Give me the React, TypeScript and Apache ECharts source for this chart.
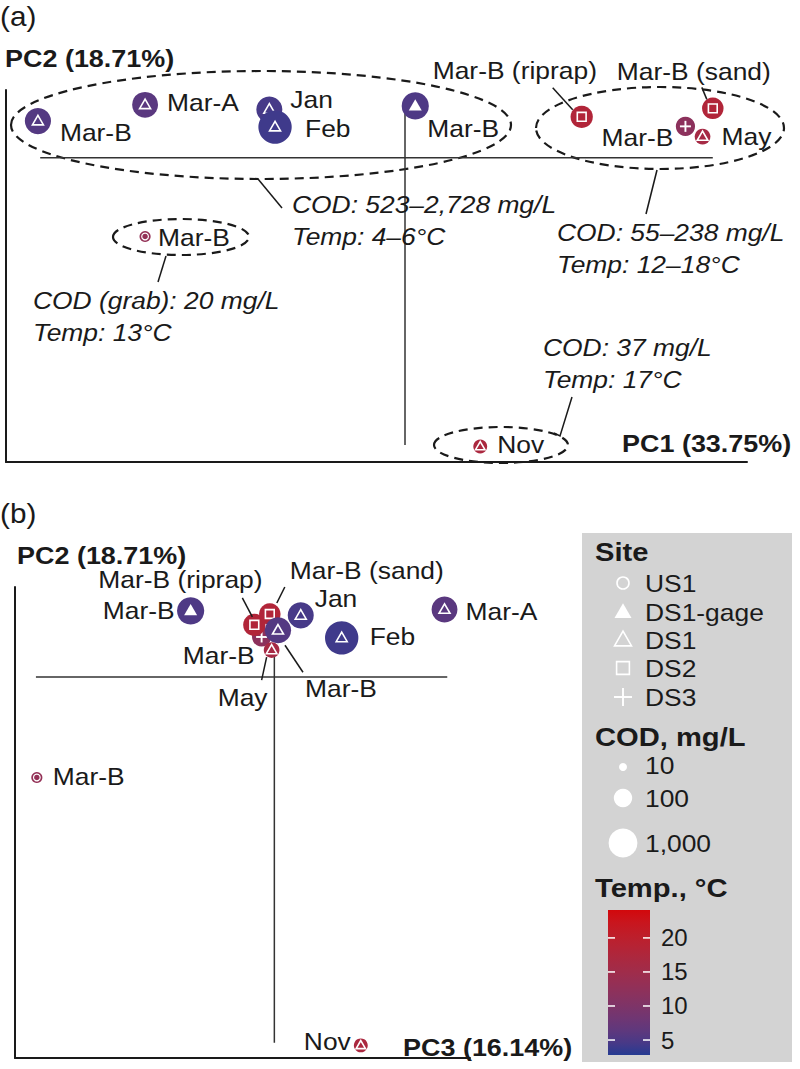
import React, { useEffect, useRef } from "react";
import * as echarts from "echarts";

const FONT = "'Liberation Sans', Arial, Helvetica, sans-serif";
const INK = "#1a1a1a";

// ---------------- data ----------------
// draw order matters (later points overlap earlier ones)
const names = ["Mar-B", "Mar-B (riprap)", "Mar-B (sand)", "Mar-B", "May", "Mar-A", "Jan", "Feb", "Mar-B", "Mar-B", "Nov"];
const sites = ["DS3", "DS2", "DS2", "DS1", "DS1", "DS1", "DS1", "DS1", "DS1-gage", "US1", "DS1"];
const pc1 = [2.46, 1.55, 2.7, -3.22, 2.61, -2.28, -1.19, -1.14, 0.09, -2.28, 0.66];
const pc2 = [0.445, 0.58, 0.7, 0.52, 0.3, 0.75, 0.685, 0.435, 0.735, -1.115, -4.09];
const pc3 = [-0.14, -0.22, -0.05, 0.04, -0.03, 1.87, 0.29, 0.74, -0.92, -2.61, 0.95];
const cod = [120, 238, 200, 560, 55, 523, 540, 2728, 700, 20, 37];
const temp = [12, 18, 18, 5.5, 16, 6, 4.5, 4, 5, 13, 17];

const siteLegend = ["US1", "DS1-gage", "DS1", "DS2", "DS3"];
const codLegend = [10, 100, 1000];
const codLegendText = ["10", "100", "1,000"];
const tempTicks = [5, 10, 15, 20];
const tempRange = [2.8, 24.1];

const titlesA = ["PC1 (33.75%)", "PC2 (18.71%)"];
const titlesB = ["PC3 (16.14%)", "PC2 (18.71%)"];

const crossAx = [-3.2, 2.7];
const crossAy = [0.82, -4.07];
const crossBx = [-2.62, 1.9];
const crossBy = [0.245, -4.06];

const notes = [
  ["COD: 523–2,728 mg/L", "Temp: 4–6°C"],
  ["COD: 55–238 mg/L", "Temp: 12–18°C"],
  ["COD (grab): 20 mg/L", "Temp: 13°C"],
  ["COD: 37 mg/L", "Temp: 17°C"],
];

// ---------------- layout (label offsets relative to each point) ----------------
type Lab = { dx: number; dy: number; align?: string; lead?: number[] };
const labelsA: Lab[] = [
  { dx: -12, dy: 11, align: "right" },
  { dx: -149, dy: -46, lead: [-29, -29, -9, -7] },
  { dx: -96, dy: -37, lead: [-11, -21, -6, -9] },
  { dx: 22, dy: 11 },
  { dx: 19, dy: 0 },
  { dx: 22, dy: -2 },
  { dx: 21, dy: -10 },
  { dx: 30, dy: 1 },
  { dx: 12, dy: 23 },
  { dx: 13, dy: 1 },
  { dx: 17, dy: -2 },
];
const labelsB: Lab[] = [
  { dx: -7, dy: 18, align: "right" },
  { dx: -156, dy: -45, lead: [-12, -27, -2, -8] },
  { dx: 20, dy: -44, lead: [15, -27, 7, -11] },
  { dx: 27, dy: 58, lead: [7, 15, 25, 42] },
  { dx: -29, dy: 47, align: "center", lead: [-5, 7, -10, 30] },
  { dx: 21, dy: 2 },
  { dx: 14, dy: -17 },
  { dx: 28, dy: -1 },
  { dx: -16, dy: 0, align: "right" },
  { dx: 16, dy: -1 },
  { dx: -10, dy: -4, align: "right" },
];

// ---------------- colour scale (Lab interpolation) ----------------
function hex2rgb(h: string) {
  const n = parseInt(h.slice(1), 16);
  return [(n >> 16) & 255, (n >> 8) & 255, n & 255];
}
const toLin = (c: number) => {
  c /= 255;
  return c <= 0.04045 ? c / 12.92 : Math.pow((c + 0.055) / 1.055, 2.4);
};
const fromLin = (c: number) => {
  const v = c <= 0.0031308 ? 12.92 * c : 1.055 * Math.pow(Math.max(c, 0), 1 / 2.4) - 0.055;
  return Math.round(Math.min(1, Math.max(0, v)) * 255);
};
const Xn = 0.95047, Zn = 1.08883;
const ff = (t: number) => (t > 0.008856 ? Math.cbrt(t) : 7.787 * t + 16 / 116);
const fi = (t: number) => (t > 0.206893 ? t * t * t : (t - 16 / 116) / 7.787);
function rgb2lab(rgb: number[]) {
  const [r, g, b] = rgb.map(toLin);
  const X = 0.4124 * r + 0.3576 * g + 0.1805 * b;
  const Y = 0.2126 * r + 0.7152 * g + 0.0722 * b;
  const Z = 0.0193 * r + 0.1192 * g + 0.9505 * b;
  const fx = ff(X / Xn), fy = ff(Y), fz = ff(Z / Zn);
  return [116 * fy - 16, 500 * (fx - fy), 200 * (fy - fz)];
}
function lab2hex(lab: number[]) {
  const [L, a, b] = lab;
  const fy = (L + 16) / 116, fx = fy + a / 500, fz = fy - b / 200;
  const X = Xn * fi(fx), Y = fi(fy), Z = Zn * fi(fz);
  const r = 3.2406 * X - 1.5372 * Y - 0.4986 * Z;
  const g = -0.9689 * X + 1.8758 * Y + 0.0415 * Z;
  const bb = 0.0557 * X - 0.204 * Y + 1.057 * Z;
  return "#" + [r, g, bb].map((v) => fromLin(v).toString(16).padStart(2, "0")).join("");
}
const LOW = rgb2lab(hex2rgb("#263b92"));
const HIGH = rgb2lab(hex2rgb("#d2080c"));
function tempColor(t: number) {
  const u = Math.min(1, Math.max(0, (t - tempRange[0]) / (tempRange[1] - tempRange[0])));
  return lab2hex(LOW.map((v, k) => v + (HIGH[k] - v) * u));
}
const codRadius = (c: number) => 4 + 5.2 * (Math.log10(c) - 1);

// ---------------- drawing helpers ----------------
function T(x: number, y: number, text: string, o: any = {}) {
  const align = o.align || "left";
  return {
    type: "text",
    x,
    y,
    scaleX: o.sx ?? 1.1,
    z: o.z ?? 6,
    silent: true,
    style: {
      text,
      fontSize: o.size ?? 24,
      fontWeight: o.bold ? "bold" : "normal",
      fontStyle: o.italic ? "italic" : "normal",
      fontFamily: FONT,
      fill: o.color || INK,
      align,
      verticalAlign: "middle",
      textAlign: align,
      textVerticalAlign: "middle",
    },
  };
}
function L(x1: number, y1: number, x2: number, y2: number, stroke = INK, lw = 1.5, z = 5) {
  return { type: "line", z, silent: true, shape: { x1, y1, x2, y2 }, style: { stroke, lineWidth: lw } };
}
function symbolEls(site: string, cx: number, cy: number, w: number, lw: number, r: number) {
  const W = "#ffffff";
  if (site === "DS1" || site === "DS1-gage") {
    const h = w * 0.866;
    const pts = [
      [cx, cy - h * 0.6],
      [cx - w / 2, cy + h * 0.4],
      [cx + w / 2, cy + h * 0.4],
    ];
    return [
      {
        type: "polygon",
        shape: { points: pts },
        style: site === "DS1" ? { fill: "none", stroke: W, lineWidth: lw, lineJoin: "miter" } : { fill: W },
      },
    ];
  }
  if (site === "DS2") {
    const s = w * 0.8;
    return [{ type: "rect", shape: { x: cx - s / 2, y: cy - s / 2, width: s, height: s }, style: { fill: "none", stroke: W, lineWidth: lw } }];
  }
  if (site === "DS3") {
    const s = w / 2;
    return [
      { type: "line", shape: { x1: cx - s, y1: cy, x2: cx + s, y2: cy }, style: { stroke: W, lineWidth: lw + 0.3 } },
      { type: "line", shape: { x1: cx, y1: cy - s, x2: cx, y2: cy + s }, style: { stroke: W, lineWidth: lw + 0.3 } },
    ];
  }
  return [{ type: "circle", shape: { cx, cy, r: r * 0.6 }, style: { fill: "none", stroke: W, lineWidth: 1.2 } }];
}

const markerRender = (params: any, api: any) => {
  const i = params.dataIndex;
  const [cx, cy] = api.coord([api.value(0), api.value(1)]);
  const r = codRadius(cod[i]);
  const w = sites[i] === "DS1-gage" ? Math.min(13, r * 1.35) : Math.min(11, r * 1.35);
  return {
    type: "group",
    children: [
      { type: "circle", shape: { cx, cy, r }, style: { fill: tempColor(temp[i]) } },
      ...symbolEls(sites[i], cx, cy, w, 1.6, r),
    ],
  };
};
const labelRender = (cfg: Lab[]) => (params: any, api: any) => {
  const i = params.dataIndex;
  const [cx, cy] = api.coord([api.value(0), api.value(1)]);
  const c = cfg[i];
  const children: any[] = [T(cx + c.dx, cy + c.dy, names[i], { align: c.align || "left" })];
  if (c.lead) {
    children.push({
      type: "line",
      shape: { x1: cx + c.lead[0], y1: cy + c.lead[1], x2: cx + c.lead[2], y2: cy + c.lead[3] },
      style: { stroke: INK, lineWidth: 1.5 },
    });
  }
  return { type: "group", children };
};

function plainAxis(gridIndex: number, min: number, max: number) {
  return {
    gridIndex,
    type: "value",
    min,
    max,
    axisLine: { show: true, onZero: false, lineStyle: { color: INK, width: 2 } },
    axisTick: { show: false },
    axisLabel: { show: false },
    splitLine: { show: false },
  };
}
function cross(xi: number, data: number[][]) {
  return {
    type: "line",
    xAxisIndex: xi,
    yAxisIndex: xi,
    data,
    symbol: "none",
    silent: true,
    z: 1,
    lineStyle: { color: "#333", width: 1.5 },
  };
}

function buildOption() {
  const G: any[] = [];
  // panel letters & axis titles
  G.push(T(0, 16, "(a)", { size: 27 }));
  G.push(T(5, 58, titlesA[1], { bold: true, size: 24.5 }));
  G.push(T(622, 443, titlesA[0], { bold: true, size: 24.5 }));
  G.push(T(0, 513, "(b)", { size: 27 }));
  G.push(T(17, 555, titlesB[1], { bold: true, size: 24.5 }));
  G.push(T(403, 1047, titlesB[0], { bold: true, size: 24.5 }));

  // dashed group ellipses (panel a)
  const ell = [
    [261, 125, 250, 54],
    [660, 128, 124, 41],
    [181, 237, 68, 18],
    [501, 445, 67, 18],
  ];
  ell.forEach(([cx, cy, rx, ry]) =>
    G.push({
      type: "ellipse",
      z: 1,
      silent: true,
      shape: { cx, cy, rx, ry },
      style: { fill: "none", stroke: INK, lineWidth: 2.2, lineDash: [9, 6] },
    })
  );
  // leaders
  G.push(L(258, 179, 282, 208));
  G.push(L(657, 170, 646, 214));
  G.push(L(166, 256, 158, 282));
  G.push({
    type: "polyline",
    z: 5,
    silent: true,
    shape: { points: [[554, 433], [560, 436], [572, 397]] },
    style: { stroke: INK, lineWidth: 1.5, fill: "none" },
  });
  // annotation texts
  const notePos = [
    [292, 204],
    [557, 232],
    [33, 300],
    [543, 347],
  ];
  notes.forEach((lines, k) => {
    lines.forEach((s, j) => G.push(T(notePos[k][0], notePos[k][1] + j * 32, s, { italic: true, size: 24 })));
  });

  // legend box
  G.push({ type: "rect", z: 0, silent: true, shape: { x: 582, y: 533, width: 210, height: 529 }, style: { fill: "#d3d3d3" } });
  G.push(T(595, 552, "Site", { bold: true, size: 26.5 }));
  const siteY = [583, 612, 640, 668, 697];
  siteLegend.forEach((s, k) => {
    const y = siteY[k];
    const w = s === "DS2" ? 16 : s === "DS3" ? 18 : 17;
    const els = s === "US1"
      ? [{ type: "circle", shape: { cx: 623, cy: y, r: 6 }, style: { fill: "none", stroke: "#fff", lineWidth: 1.6 } }]
      : symbolEls(s, 623, y, w, 1.6, 6);
    els.forEach((e: any) => G.push({ ...e, z: 2, silent: true }));
    G.push(T(645, y, s, { size: 24 }));
  });
  G.push(T(595, 737, "COD, mg/L", { bold: true, size: 26.5 }));
  const codY = [767, 798, 843];
  codLegend.forEach((c, k) => {
    G.push({ type: "circle", z: 2, silent: true, shape: { cx: 623, cy: codY[k], r: codRadius(c) }, style: { fill: "#fff" } });
    G.push(T(645, codY[k] - (k === 0 ? 2 : 0), codLegendText[k], { size: 24 }));
  });
  G.push(T(595, 888, "Temp., °C", { bold: true, size: 26.5 }));

  const stops: any[] = [];
  for (let k = 0; k <= 12; k++) {
    const u = k / 12;
    stops.push({ offset: u, color: tempColor(tempRange[0] + u * (tempRange[1] - tempRange[0])) });
  }
  const barFill = new echarts.graphic.LinearGradient(0, 1, 0, 0, stops);

  return {
    animation: false,
    grid: [
      { left: 6, top: 90, width: 741, height: 372 },
      { left: 15, top: 587, width: 455, height: 471 },
      { left: 608, top: 910, width: 42, height: 145 },
    ],
    xAxis: [
      plainAxis(0, -3.5, 3.0),
      plainAxis(1, -2.85, 2.15),
      { gridIndex: 2, type: "value", min: 0, max: 1, show: false },
    ],
    yAxis: [
      plainAxis(0, -4.31, 0.96),
      plainAxis(1, -4.23, 1.0),
      {
        gridIndex: 2,
        type: "value",
        position: "right",
        min: tempRange[0],
        max: tempRange[1],
        axisLine: { show: false },
        axisTick: { show: false },
        axisLabel: { show: true, customValues: tempTicks, margin: 11, fontSize: 24, fontFamily: FONT, color: INK },
        splitLine: { show: false },
      },
    ],
    series: [
      cross(0, [[crossAx[0], 0], [crossAx[1], 0]]),
      cross(0, [[0, crossAy[0]], [0, crossAy[1]]]),
      cross(1, [[crossBx[0], 0], [crossBx[1], 0]]),
      cross(1, [[0, crossBy[0]], [0, crossBy[1]]]),
      {
        type: "custom",
        xAxisIndex: 0,
        yAxisIndex: 0,
        z: 3,
        data: pc1.map((x, i) => [x, pc2[i]]),
        renderItem: markerRender,
      },
      {
        type: "custom",
        xAxisIndex: 0,
        yAxisIndex: 0,
        z: 4,
        data: pc1.map((x, i) => [x, pc2[i]]),
        renderItem: labelRender(labelsA),
      },
      {
        type: "custom",
        xAxisIndex: 1,
        yAxisIndex: 1,
        z: 3,
        data: pc3.map((x, i) => [x, pc2[i]]),
        renderItem: markerRender,
      },
      {
        type: "custom",
        xAxisIndex: 1,
        yAxisIndex: 1,
        z: 4,
        data: pc3.map((x, i) => [x, pc2[i]]),
        renderItem: labelRender(labelsB),
      },
      // colour bar (gradient through the temperature axis)
      {
        type: "custom",
        xAxisIndex: 2,
        yAxisIndex: 2,
        z: 1,
        silent: true,
        data: [[0, tempRange[0]]],
        renderItem: (p: any, api: any) => {
          const [x0, yb] = api.coord([0, tempRange[0]]);
          const [x1, yt] = api.coord([1, tempRange[1]]);
          return { type: "rect", shape: { x: x0, y: yt, width: x1 - x0, height: yb - yt }, style: { fill: barFill } };
        },
      },
      // colour bar ticks (both edges)
      {
        type: "custom",
        xAxisIndex: 2,
        yAxisIndex: 2,
        z: 2,
        silent: true,
        data: tempTicks.map((t) => [0, t]),
        renderItem: (p: any, api: any) => {
          const [xl, y] = api.coord([0, api.value(1)]);
          const [xr] = api.coord([1, api.value(1)]);
          const st = { stroke: "#ffffff", lineWidth: 1.5 };
          return {
            type: "group",
            children: [
              { type: "line", shape: { x1: xl, y1: y, x2: xl + 7, y2: y }, style: st },
              { type: "line", shape: { x1: xr - 7, y1: y, x2: xr, y2: y }, style: st },
            ],
          };
        },
      },
    ],
    graphic: { elements: G },
  };
}

export default function App() {
  const ref = useRef<HTMLDivElement>(null);
  useEffect(() => {
    if (!ref.current) return;
    const chart = echarts.init(ref.current, null, { renderer: "svg", width: 800, height: 1069 });
    chart.setOption(buildOption() as any);
    return () => chart.dispose();
  }, []);
  return (
    <div
      ref={ref}
      style={{ position: "absolute", left: 0, top: 0, width: 800, height: 1069, background: "#fff" }}
    />
  );
}
